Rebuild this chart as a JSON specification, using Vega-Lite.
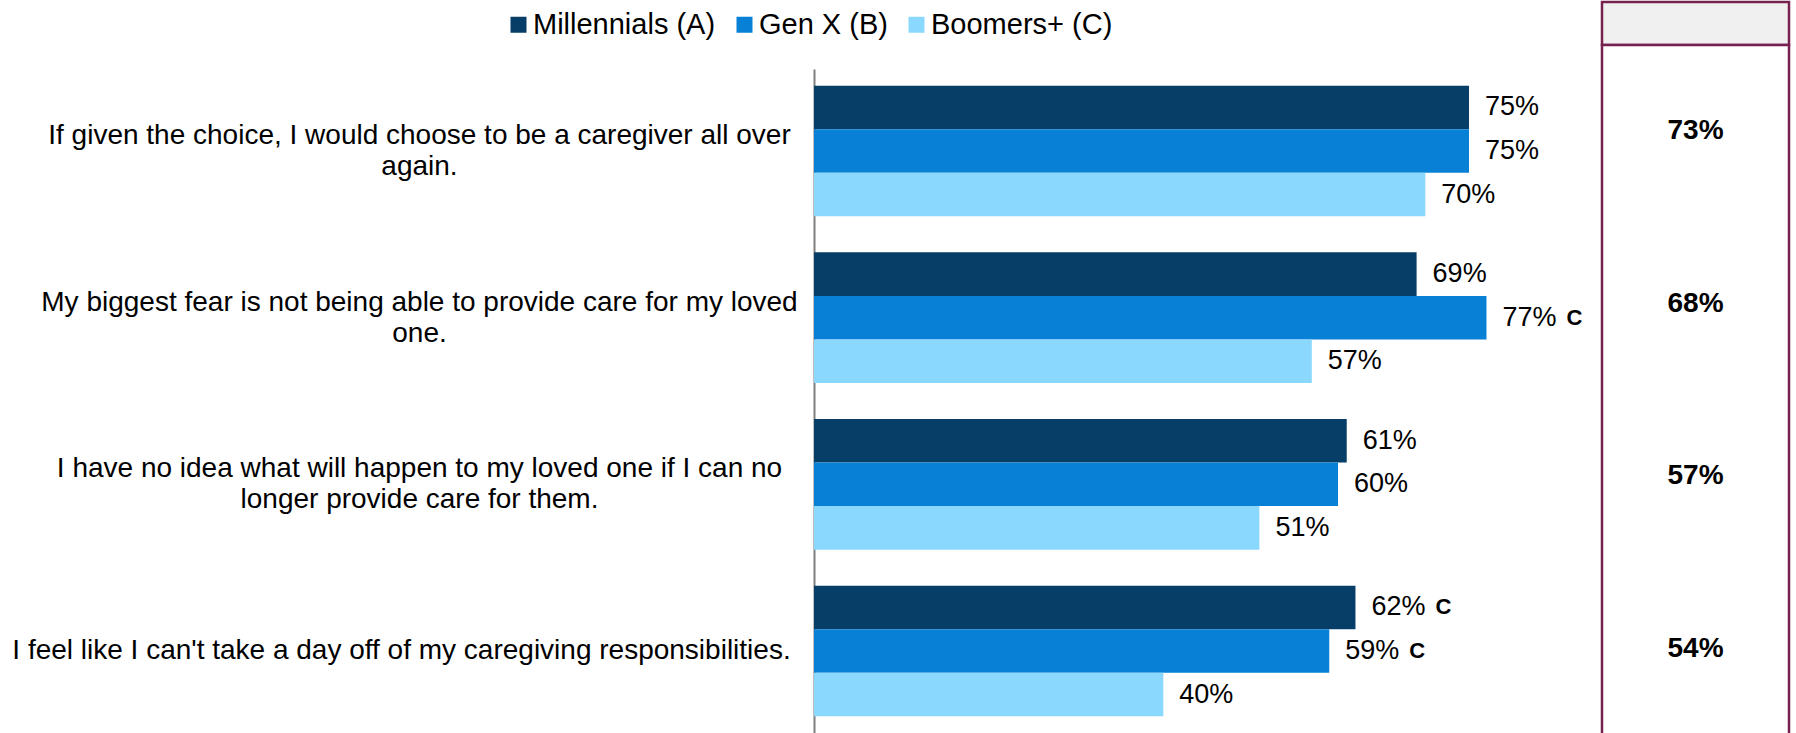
{
  "$schema": "https://vega.github.io/schema/vega-lite/v6.json",
  "background": "white",
  "padding": {"left": 11, "top": 0, "right": 0, "bottom": 0},
  "spacing": 0,
  "config": {
    "view": {"stroke": null},
    "font": "Liberation Sans",
    "text": {"font": "Liberation Sans", "color": "black"}
  },
  "datasets": {
    "bars": [
      {"statement": "If given the choice, I would choose to be a caregiver all over\nagain.", "group": "Millennials (A)", "value": 0.75, "sig": ""},
      {"statement": "If given the choice, I would choose to be a caregiver all over\nagain.", "group": "Gen X (B)", "value": 0.75, "sig": ""},
      {"statement": "If given the choice, I would choose to be a caregiver all over\nagain.", "group": "Boomers+ (C)", "value": 0.70, "sig": ""},
      {"statement": "My biggest fear is not being able to provide care for my loved\none.", "group": "Millennials (A)", "value": 0.69, "sig": ""},
      {"statement": "My biggest fear is not being able to provide care for my loved\none.", "group": "Gen X (B)", "value": 0.77, "sig": "C"},
      {"statement": "My biggest fear is not being able to provide care for my loved\none.", "group": "Boomers+ (C)", "value": 0.57, "sig": ""},
      {"statement": "I have no idea what will happen to my loved one if I can no\nlonger provide care for them.", "group": "Millennials (A)", "value": 0.61, "sig": ""},
      {"statement": "I have no idea what will happen to my loved one if I can no\nlonger provide care for them.", "group": "Gen X (B)", "value": 0.60, "sig": ""},
      {"statement": "I have no idea what will happen to my loved one if I can no\nlonger provide care for them.", "group": "Boomers+ (C)", "value": 0.51, "sig": ""},
      {"statement": "I feel like I can't take a day off of my caregiving responsibilities.", "group": "Millennials (A)", "value": 0.62, "sig": "C"},
      {"statement": "I feel like I can't take a day off of my caregiving responsibilities.", "group": "Gen X (B)", "value": 0.59, "sig": "C"},
      {"statement": "I feel like I can't take a day off of my caregiving responsibilities.", "group": "Boomers+ (C)", "value": 0.40, "sig": ""}
    ],
    "totals": [
      {"statement": "If given the choice, I would choose to be a caregiver all over\nagain.", "total": 0.73},
      {"statement": "My biggest fear is not being able to provide care for my loved\none.", "total": 0.68},
      {"statement": "I have no idea what will happen to my loved one if I can no\nlonger provide care for them.", "total": 0.57},
      {"statement": "I feel like I can't take a day off of my caregiving responsibilities.", "total": 0.54}
    ]
  },
  "resolve": {
    "scale": {"x": "independent", "y": "independent", "color": "independent"},
    "legend": {"color": "independent"}
  },
  "hconcat": [
    {
      "spacing": 0,
      "resolve": {
        "scale": {"x": "independent", "y": "independent", "color": "independent"},
        "legend": {"color": "independent"}
      },
      "vconcat": [
        {
          "width": 786,
          "height": 67,
          "data": {"name": "bars"},
          "mark": {"type": "square", "filled": true, "opacity": 0, "size": 1},
          "encoding": {
            "color": {
              "field": "group",
              "type": "nominal",
              "sort": ["Millennials (A)", "Gen X (B)", "Boomers+ (C)"],
              "scale": {
                "domain": ["Millennials (A)", "Gen X (B)", "Boomers+ (C)"],
                "range": ["#073E67", "#0780D5", "#8BD8FE"]
              },
              "legend": {
                "orient": "none",
                "legendX": -318,
                "legendY": 0,
                "direction": "horizontal",
                "title": null,
                "padding": 8,
                "symbolType": "square",
                "symbolSize": 256,
                "symbolOpacity": 1,
                "symbolStrokeWidth": 0,
                "labelFont": "Liberation Sans",
                "labelFontSize": 29,
                "labelColor": "black",
                "labelOffset": 0,
                "labelLimit": 400,
                "columnPadding": 14
              }
            }
          }
        },
        {
          "width": 786,
          "height": 664,
          "data": {"name": "bars"},
          "encoding": {
            "y": {
              "field": "statement",
              "type": "nominal",
              "sort": null,
              "scale": {"paddingInner": 0.216, "paddingOuter": 0.1},
              "axis": {
                "title": null,
                "domain": true,
                "domainColor": "#7f7f7f",
                "domainWidth": 2,
                "ticks": false,
                "tickSize": 0,
                "labelAlign": "center",
                "labelBaseline": "middle",
                "labelPadding": {"condition": {"test": "indexof(datum.value, '\\n') >= 0", "value": 395}, "value": 413},
                "labelOffset": {"condition": {"test": "indexof(datum.value, '\\n') >= 0", "value": -15}, "value": 0},
                "labelFont": "Liberation Sans",
                "labelFontSize": 28,
                "labelColor": "black",
                "labelLimit": 1000,
                "labelLineHeight": 31,
                "labelExpr": "split(datum.label, '\\n')"
              }
            },
            "yOffset": {
              "field": "group",
              "type": "nominal",
              "sort": ["Millennials (A)", "Gen X (B)", "Boomers+ (C)"],
              "scale": {"paddingInner": 0, "paddingOuter": 0}
            },
            "x": {
              "field": "value",
              "type": "quantitative",
              "scale": {"domain": [0, 0.9], "nice": false, "zero": true},
              "axis": null
            }
          },
          "layer": [
            {
              "mark": {"type": "bar"},
              "encoding": {
                "color": {
                  "field": "group",
                  "type": "nominal",
                  "sort": ["Millennials (A)", "Gen X (B)", "Boomers+ (C)"],
                  "scale": {
                    "domain": ["Millennials (A)", "Gen X (B)", "Boomers+ (C)"],
                    "range": ["#073E67", "#0780D5", "#8BD8FE"]
                  },
                  "legend": null
                }
              }
            },
            {
              "mark": {"type": "text", "align": "left", "baseline": "middle", "dx": 16, "fontSize": 27, "color": "black"},
              "encoding": {"text": {"field": "value", "type": "quantitative", "format": ".0%"}}
            },
            {
              "transform": [{"filter": "datum.sig != ''"}],
              "mark": {"type": "text", "align": "left", "baseline": "middle", "dx": 80, "fontSize": 22, "fontWeight": "bold", "color": "black"},
              "encoding": {"text": {"field": "sig", "type": "nominal"}}
            }
          ]
        }
      ]
    },
    {
      "spacing": 0,
      "bounds": "flush",
      "resolve": {"scale": {"y": "independent", "x": "independent"}},
      "vconcat": [
        {
          "width": 187,
          "height": 43,
          "data": {"values": [{"h": ""}]},
          "view": {"fill": "#f0f0f0", "stroke": "#76214f", "strokeWidth": 2.5},
          "mark": {"type": "text"},
          "encoding": {"text": {"field": "h", "type": "nominal"}}
        },
        {
          "width": 187,
          "height": 690,
          "data": {"name": "totals"},
          "view": {"fill": "white", "stroke": "#76214f", "strokeWidth": 2.5},
          "mark": {"type": "text", "fontSize": 28, "fontWeight": "bold", "baseline": "middle", "color": "black"},
          "encoding": {
            "y": {
              "field": "statement",
              "type": "nominal",
              "sort": null,
              "axis": null,
              "scale": {"paddingInner": 0, "paddingOuter": 0}
            },
            "text": {"field": "total", "type": "quantitative", "format": ".0%"}
          }
        }
      ]
    }
  ]
}
